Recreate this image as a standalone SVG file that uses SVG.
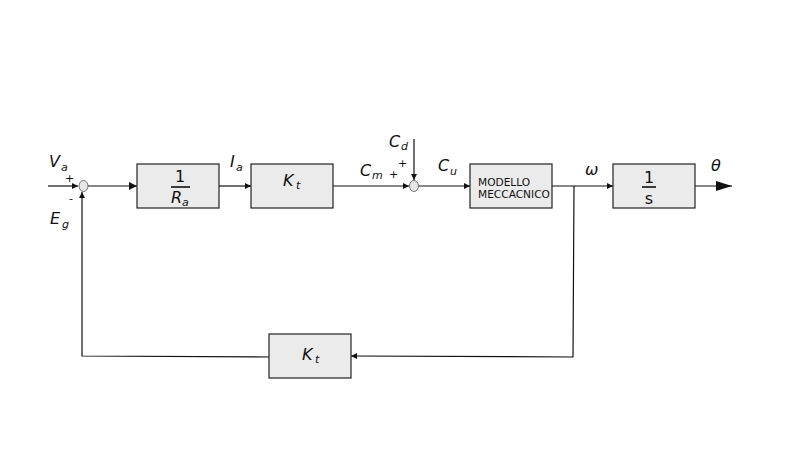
<svg xmlns="http://www.w3.org/2000/svg" width="794" height="454" viewBox="0 0 794 454">
<style>
.box{fill:#ebebeb;stroke:#222;stroke-width:1.2}
.sum{fill:#e6e6e6;stroke:#555;stroke-width:0.8}
.ln{fill:none;stroke:#111;stroke-width:1.2}
.t{font-family:"DejaVu Sans",sans-serif;fill:#111}
.v{font-family:"DejaVu Sans",sans-serif;font-style:italic;font-size:16px;fill:#111}
.s{font-family:"DejaVu Sans",sans-serif;font-style:italic;font-size:11px;fill:#111}
.p{font-family:"DejaVu Sans",sans-serif;font-size:11px;fill:#111}
</style>
<defs>
<marker id="a" markerWidth="6" markerHeight="6" refX="6" refY="3" orient="auto" markerUnits="userSpaceOnUse"><path d="M0,0 L6,3 L0,6 z" fill="#111"/></marker>
<marker id="b" markerWidth="8" markerHeight="8" refX="8" refY="4" orient="auto" markerUnits="userSpaceOnUse"><path d="M0,0 L8,4 L0,8 z" fill="#111"/></marker>
<marker id="c" markerWidth="16" markerHeight="10" refX="16" refY="5" orient="auto" markerUnits="userSpaceOnUse"><path d="M0,0 L16,5 L0,10 z" fill="#111"/></marker>
</defs>
<g id="connectors">
<line class="ln" x1="48" y1="186" x2="78" y2="186" marker-end="url(#a)"/>
<line class="ln" x1="88" y1="186" x2="137" y2="186" marker-end="url(#b)"/>
<line class="ln" x1="219" y1="186" x2="251" y2="186" marker-end="url(#a)"/>
<line class="ln" x1="333" y1="186" x2="409" y2="186" marker-end="url(#a)"/>
<line class="ln" x1="414" y1="139" x2="414" y2="180" marker-end="url(#a)"/>
<line class="ln" x1="419" y1="186" x2="470" y2="186" marker-end="url(#a)"/>
<line class="ln" x1="552" y1="186" x2="613" y2="186" marker-end="url(#a)"/>
<line class="ln" x1="695" y1="186" x2="732" y2="186" marker-end="url(#c)"/>
<polyline class="ln" points="574,186 573,357 351,356" marker-end="url(#a)"/>
<polyline class="ln" points="269,357 82,356 82,192" marker-end="url(#a)"/>
</g>
<g id="sum1"><ellipse class="sum" cx="83.5" cy="186" rx="4.5" ry="5.5"/></g>
<g id="sum2"><ellipse class="sum" cx="414" cy="186" rx="4.5" ry="5.5"/></g>
<g id="block_Ra">
<rect class="box" x="137" y="164" width="82" height="44"/>
<text class="t" x="180" y="182" font-size="16" text-anchor="middle">1</text>
<line x1="171" y1="187" x2="190" y2="187" stroke="#111" stroke-width="1.6"/>
<text class="v" x="171" y="203">R</text><text class="s" x="182" y="206">a</text>
</g>
<g id="block_Kt">
<rect class="box" x="251" y="164" width="82" height="44"/>
<text class="v" x="283" y="186">K</text><text class="s" x="296" y="189">t</text>
</g>
<g id="block_mecc">
<rect class="box" x="470" y="164" width="82" height="44"/>
<text class="t" x="478" y="186" font-size="10.6">MODELLO</text>
<text class="t" x="478" y="197.5" font-size="10.6">MECCACNICO</text>
</g>
<g id="block_int">
<rect class="box" x="613" y="164" width="82" height="44"/>
<text class="t" x="649" y="183" font-size="16" text-anchor="middle">1</text>
<line x1="642" y1="187" x2="656" y2="187" stroke="#111" stroke-width="1.6"/>
<text class="t" x="649" y="204" font-size="16" text-anchor="middle">s</text>
</g>
<g id="block_Kt_fb">
<rect class="box" x="269" y="334" width="82" height="44"/>
<text class="v" x="302" y="360">K</text><text class="s" x="315" y="363">t</text>
</g>
<g id="labels">
<text class="v" x="49" y="167">V</text><text class="s" x="61" y="171">a</text>
<text class="p" x="65" y="182">+</text>
<text class="p" x="69" y="202">-</text>
<text class="v" x="50" y="224">E</text><text class="s" x="62" y="228">g</text>
<text class="v" x="230" y="167">I</text><text class="s" x="236" y="171">a</text>
<text class="v" x="360" y="176">C</text><text class="s" x="372" y="179">m</text>
<text class="p" x="389" y="178">+</text>
<text class="p" x="398" y="167">+</text>
<text class="v" x="389" y="147">C</text><text class="s" x="401" y="150">d</text>
<text class="v" x="438" y="171">C</text><text class="s" x="450" y="175">u</text>
<text class="v" x="585" y="175">ω</text>
<text class="v" x="711" y="171">θ</text>
</g>
</svg>
